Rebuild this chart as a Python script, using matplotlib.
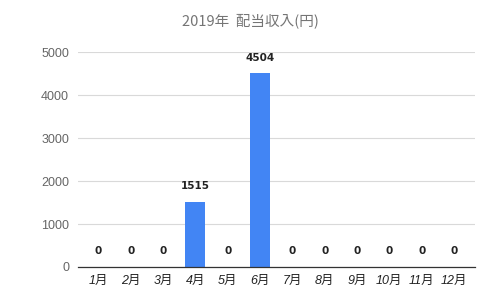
import matplotlib.pyplot as plt

plt.rcParams["font.family"] = ["Noto Sans CJK JP", "DejaVu Sans"]

# DATA

MONTHS = ["1月", "2月", "3月", "4月", "5月", "6月",
          "7月", "8月", "9月", "10月", "11月", "12月"]
INCOME = [0, 0, 0, 1515, 0, 4504, 0, 0, 0, 0, 0, 0]
Y_TICKS = [0, 1000, 2000, 3000, 4000, 5000]
TITLE = "2019年  配当収入(円)"

BAR_COLOR = "#4285F4"


def main() -> None:
    fig = plt.figure(figsize=(5.0, 2.96), dpi=100)
    ax = fig.add_axes([0.155, 0.098, 0.795, 0.726])

    x = range(len(MONTHS))
    ax.bar(x, INCOME, width=0.62, color=BAR_COLOR, zorder=3)

    for xi, v in zip(x, INCOME):
        ax.text(xi, v + 250, str(v), ha="center", va="bottom",
                fontsize=7.5, fontweight="bold", color="#222222",
                family="DejaVu Sans")

    ax.set_ylim(0, 5000)
    ax.set_xlim(-0.65, 11.65)
    ax.set_yticks(Y_TICKS)
    ax.set_yticklabels([str(t) for t in Y_TICKS], color="#666666",
                       fontsize=9, family="Liberation Sans")
    ax.set_xticks(list(x))
    ax.set_xticklabels(MONTHS, fontsize=9, style="italic", color="#222222",
                       family=["Liberation Sans", "Noto Sans CJK JP"])

    ax.grid(axis="y", color="#d9d9d9", linewidth=0.8, zorder=0)
    for side in ["top", "right", "left"]:
        ax.spines[side].set_visible(False)
    ax.spines["bottom"].set_color("#333333")
    ax.spines["bottom"].set_linewidth(0.9)
    ax.spines["bottom"].set_zorder(4)
    ax.tick_params(axis="both", length=0, pad=6)

    fig.text(0.5, 0.93, TITLE, ha="center", va="center",
             fontsize=10.5, color="#757575")

    fig.savefig("out.png", dpi=100)
    plt.close(fig)


if __name__ == "__main__":
    main()
